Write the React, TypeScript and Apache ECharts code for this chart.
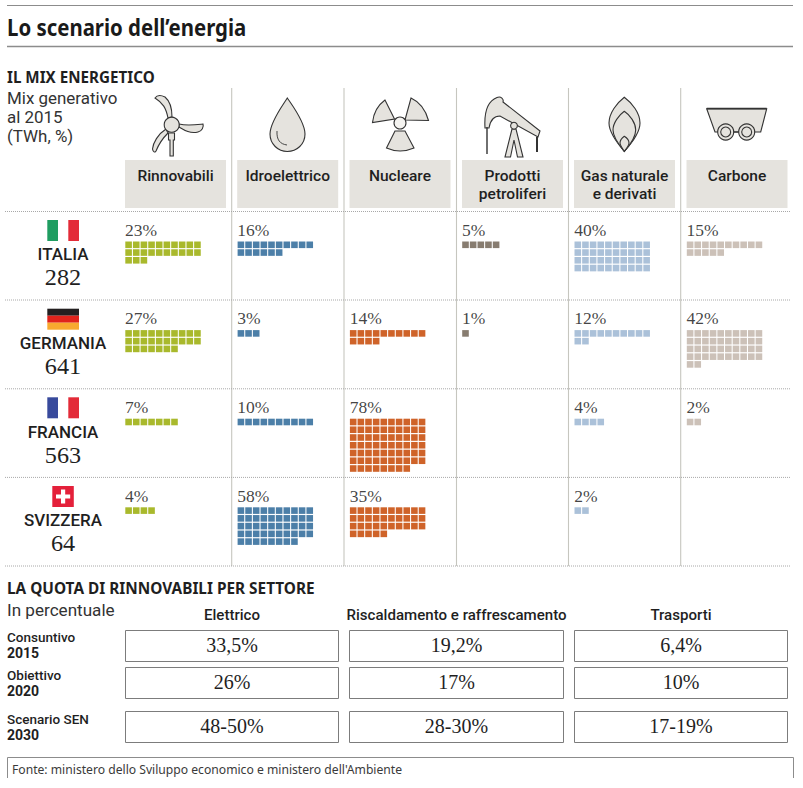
import React, { useEffect, useRef } from "react";
import * as echarts from "echarts";

const sources = ["Rinnovabili", "Idroelettrico", "Nucleare", "Prodotti\npetroliferi", "Gas naturale\ne derivati", "Carbone"];
const sourceColors = ["#a9b92c", "#4c7fa8", "#cf6329", "#877c70", "#abc1d9", "#ccc1b8"];
const countries = ["ITALIA", "GERMANIA", "FRANCIA", "SVIZZERA"];
const totals = ["282", "641", "563", "64"];

// Printed percentages, one list per source, in the order of the countries
const rinnovabiliPct = [23, 27, 7, 4];
const idroPct = [16, 3, 10, 58];
const nuclearePct = [null, 14, 78, 35];
const petroliPct = [5, 1, null, null];
const gasPct = [40, 12, 4, 2];
const carbonePct = [15, 42, 2, null];
const printedPct = [rinnovabiliPct, idroPct, nuclearePct, petroliPct, gasPct, carbonePct];

// Squares as they are drawn in the picture: the reference shows one row fewer than
// its label for Francia/Nucleare (68 for 78%) and Svizzera/Idroelettrico (48 for 58%)
const rinnovabiliCells = [23, 27, 7, 4];
const idroCells = [16, 3, 10, 48];
const nucleareCells = [0, 14, 68, 35];
const petroliCells = [5, 1, 0, 0];
const gasCells = [40, 12, 4, 2];
const carboneCells = [15, 42, 2, 0];
const drawnCells = [rinnovabiliCells, idroCells, nucleareCells, petroliCells, gasCells, carboneCells];

const sectors = ["Elettrico", "Riscaldamento e raffrescamento", "Trasporti"];
const scenarioNames = ["Consuntivo", "Obiettivo", "Scenario SEN"];
const scenarioYears = ["2015", "2020", "2030"];
const elettrico = ["33,5%", "26%", "48-50%"];
const riscaldamento = ["19,2%", "17%", "28-30%"];
const trasporti = ["6,4%", "10%", "17-19%"];
const shareTable = [elettrico, riscaldamento, trasporti];

const SANS = '"Noto Sans", sans-serif';
const ROBOTO = 'Roboto, "Noto Sans", sans-serif';
const SERIF = '"Liberation Serif", serif';
const INK = "#1f1f1f";
const PANEL = "#e5e3de";
const ICON = "#333333";

const shapes: Record<string, string> = {
  bladeA: "M168,118 C166,108 163,103 155,98 C157,95 161,95 165,97 C171,102 172,110 172,117 Z",
  bladeB: "M179,124 C187,126 194,125 203,124 C204,127 202,131 198,132 C190,134 184,130 179,127 Z",
  bladeC: "M166,129 C158,134 153,143 152.5,149 C153,152 155,153 156,151 C158,146 161,140 168,133 Z",
  mast: "M168.5,133 L174.5,133 L174.5,140 L173.3,140 L173.3,156 L170,156 L170,140 L168.5,140 Z",
  drop: "M287.3,98 C283,105 270,122 270,134 C270,144 278,151.5 287.3,151.5 C297,151.5 305,144 305,134 C305,122 292,105 287.3,98 Z",
  dropArc: "M277,131 C276.5,140 280,144 287,145",
  radA: "M394.5,119 L385,100 Q374,108 372.5,122.5 Z",
  radB: "M405,120 L411,98 Q424,104 428.5,120.5 Z",
  radC: "M395,131 L386.5,148 Q400,154 414,148 L405,131 Z",
  pumpBeam: "M485,128 C484,112 488,101 497,97.5 C501,96 504,99 503,102 L540,131 L538,137 L500,116 C493,116 490,122 489,128 Z",
  pumpLegs: "M512,129 L505,157 L510.5,157 L514,140 L517.5,157 L523,157 L516,129 Z",
  flameA: "M624.3,97.3 C617,103 609,113 609,123 C609,133 618,144 624.3,151.3 C631,144 640,133 640,123 C640,113 632,103 624.3,97.3 Z",
  flameB: "M624.3,111.3 C619,115 613,123 613,130 C613,137 619,145 624.3,151.3 C630,145 635.7,137 635.7,130 C635.7,123 630,115 624.3,111.3 Z",
  flameC: "M624.3,136.3 C622,138 620,141 620,143 C620,145 622,148 624.3,151.3 C627,148 629,145 629,143 C629,141 627,138 624.3,136.3 Z",
  cart: "M706.7,108.7 L766.7,108.7 L760.7,132 L715,132 Z",
};
Object.keys(shapes).forEach((k) => {
  echarts.graphic.registerShape(k, echarts.graphic.extendPath(shapes[k], {}));
});

function txt(text: string, x: number, y: number, fontSize: number, opts: any = {}) {
  const { scaleX, family, weight, align, fill, z, lineHeight } = opts;
  return {
    type: "text",
    x,
    y,
    scaleX: scaleX ?? 1,
    z: z ?? 5,
    silent: true,
    style: {
      text,
      fontSize,
      lineHeight,
      fontFamily: family ?? SANS,
      fontWeight: weight ?? "normal",
      align: align ?? "left",
      verticalAlign: "middle",
      fill: fill ?? INK,
    },
  };
}
const line = (x1: number, y1: number, x2: number, y2: number, stroke: string, lineWidth = 1, lineDash?: number[]) => ({
  type: "line",
  silent: true,
  shape: { x1, y1, x2, y2 },
  style: { stroke, lineWidth, lineDash },
});
const rect = (x: number, y: number, width: number, height: number, style: any) => ({
  type: "rect",
  silent: true,
  shape: { x, y, width, height },
  style,
});
const icon = (name: string, fill: string = PANEL, lineWidth = 1.1) => ({
  type: name,
  silent: true,
  x: 0,
  y: 0,
  style: { fill, stroke: ICON, lineWidth },
});
const circle = (cx: number, cy: number, r: number, fill: string = PANEL, lineWidth = 1.1) => ({
  type: "circle",
  silent: true,
  shape: { cx, cy, r },
  style: { fill, stroke: ICON, lineWidth },
});

function buildGraphics() {
  const g: any[] = [];
  // rules
  g.push(line(7, 5.5, 793, 5.5, "#8c8c8c"));
  g.push(line(7, 46.5, 793, 46.5, "#8c8c8c", 1.3));
  g.push(txt("Lo scenario dell\u2019energia", 7, 26.5, 24, { weight: "bold", scaleX: 0.85, fill: "#1a1a1a" }));
  g.push(txt("IL MIX ENERGETICO", 7, 76.5, 16, { weight: "bold", scaleX: 0.95 }));
  g.push(txt("Mix generativo\nal 2015\n(TWh, %)", 7, 118, 16, { family: ROBOTO, fill: "#333333", lineHeight: 19, scaleX: 1.06 }));

  // header panels, dividers
  const panelX = [125, 237.2, 349.5, 462, 574, 686.5];
  sources.forEach((s, i) => {
    g.push(rect(panelX[i], 160, 101, 48, { fill: PANEL }));
    const cx = panelX[i] + 50.5;
    const lines = s.split("\n").length;
    g.push(txt(s, cx, 176.5 + (lines - 1) * 8.75, 14.8, { align: "center", family: ROBOTO, weight: 500, lineHeight: 17.5, scaleX: 1.05 }));
  });
  [231.7, 344, 456.5, 568.5, 680.7].forEach((x) => g.push(line(x, 88, x, 566, "#c6c6bf", 1.1)));
  [211.5, 300, 388.8, 477.4, 566].forEach((y) => g.push(line(5, y, 791, y, "#a8a8a8", 1, [1, 1])));

  // icons
  ["bladeA", "bladeB", "bladeC", "mast"].forEach((n) => g.push(icon(n)));
  g.push(circle(171.7, 124.7, 7.5));
  g.push(icon("drop"));
  g.push(icon("dropArc", "none", 0.9));
  ["radA", "radB", "radC"].forEach((n) => g.push(icon(n)));
  g.push(circle(400, 123, 6, "#f4f3f0"));
  g.push(icon("pumpLegs"));
  g.push(icon("pumpBeam"));
  g.push(circle(514, 125.7, 3.4));
  g.push(line(487, 127, 487, 154, ICON, 1.4));
  g.push(line(537, 137, 537, 152, ICON, 2));
  ["flameA", "flameB", "flameC"].forEach((n) => g.push(icon(n)));
  g.push(icon("cart"));
  g.push(line(706.7, 108.7, 766.7, 108.7, ICON, 1.8));
  g.push(line(725.7, 132, 746.7, 132, ICON, 1.2));
  [725.7, 746.7].forEach((cx) => {
    g.push(circle(cx, 132, 8));
    g.push(circle(cx, 132, 5));
  });

  // flags
  g.push(rect(47.3, 220, 10.7, 21, { fill: "#1f9d61" }));
  g.push(rect(68.3, 220, 10.7, 21, { fill: "#e32b38" }));
  g.push(rect(47.3, 308.7, 31.7, 7, { fill: "#231f20" }));
  g.push(rect(47.3, 315.7, 31.7, 7, { fill: "#e0231c" }));
  g.push(rect(47.3, 322.7, 31.7, 7, { fill: "#f8a92f" }));
  g.push(rect(47.3, 397.3, 10.7, 21, { fill: "#384a9c" }));
  g.push(rect(68.3, 397.3, 10.7, 21, { fill: "#e32b38" }));
  g.push(rect(52.3, 486, 21.5, 21, { fill: "#e4203a" }));
  g.push(rect(61, 489.5, 4.2, 14, { fill: "#ffffff" }));
  g.push(rect(56, 494.4, 14.2, 4.2, { fill: "#ffffff" }));

  // country labels
  countries.forEach((c, i) => {
    g.push(txt(c, 63, 254.3 + i * 88.7, 17, { align: "center", family: ROBOTO, weight: 500 }));
    g.push(txt(totals[i], 63, 277.3 + i * 88.7, 23.5, { align: "center", family: SERIF, scaleX: 1.03 }));
  });

  // lower table
  g.push(txt("LA QUOTA DI RINNOVABILI PER SETTORE", 7, 588, 16, { weight: "bold", scaleX: 0.96 }));
  g.push(txt("In percentuale", 7, 610.5, 16, { family: ROBOTO, fill: "#333333", scaleX: 1.07 }));
  const colX = [125.5, 349.5, 574.5];
  const colW = [213, 214, 213];
  const rowY = [630.5, 667.5, 711.5];
  sectors.forEach((s, c) => {
    g.push(txt(s, colX[c] + colW[c] / 2, 615, 14.8, { align: "center", family: ROBOTO, weight: 500, scaleX: 1.02 }));
    rowY.forEach((y, r) => {
      g.push(rect(colX[c], y, colW[c], 31, { fill: "#ffffff", stroke: "#7c7c7c", lineWidth: 1 }));
      g.push(txt(shareTable[c][r], colX[c] + colW[c] / 2, y + 14.7, 20, { align: "center", family: SERIF }));
    });
  });
  scenarioNames.forEach((n, i) => {
    const y = [636.7, 674.7, 718.7][i];
    g.push(txt(n, 7, y, 13.5, { family: ROBOTO, weight: 500 }));
    g.push(txt(scenarioYears[i], 7, y + 16.3, 14, { family: ROBOTO, weight: "bold" }));
  });

  // source box
  g.push({
    type: "polyline",
    silent: true,
    shape: { points: [[7.5, 778], [7.5, 757.5], [793.5, 757.5], [793.5, 778]] },
    style: { stroke: "#8c8c8c", lineWidth: 1, fill: "none" },
  });
  g.push(txt("Fonte: ministero dello Sviluppo economico e ministero dell'Ambiente", 12, 769, 13.5, { fill: "#3a3a3a", scaleX: 0.9 }));
  return g;
}

const CELL_STEP_X = 7.65 / 112.3;
const CELL_STEP_Y = 7.75 / 88.6;
const PER_ROW = 10;

function cellPoints(col: number) {
  const pts: number[][] = [];
  drawnCells[col].forEach((n, row) => {
    for (let k = 0; k < n; k++) {
      pts.push([col + (k % PER_ROW) * CELL_STEP_X, row + Math.floor(k / PER_ROW) * CELL_STEP_Y]);
    }
  });
  return pts;
}

function labelPoints() {
  const pts: any[] = [];
  printedPct.forEach((list, col) =>
    list.forEach((v, row) => {
      if (v !== null) pts.push([col, row, `${v}%`]);
    })
  );
  return pts;
}

export default function App() {
  const ref = useRef<HTMLDivElement>(null);
  useEffect(() => {
    document.body.style.margin = "0";
    const chart = echarts.init(ref.current!, undefined, { renderer: "svg" });
    chart.setOption({
      animation: false,
      backgroundColor: "#ffffff",
      grid: { left: 128.6, top: 244.8, width: 673.8, height: 354.4, containLabel: false },
      xAxis: { type: "value", min: 0, max: 6, show: false },
      yAxis: { type: "value", min: 0, max: 4, inverse: true, show: false },
      tooltip: { show: false },
      graphic: { elements: buildGraphics() },
      series: [
        ...sources.map((s, col) => ({
          type: "scatter",
          name: s.replace("\n", " "),
          symbol: "rect",
          symbolSize: 6.6,
          silent: true,
          clip: false,
          itemStyle: { color: sourceColors[col], opacity: 1 },
          data: cellPoints(col),
          z: 3,
        })),
        {
          type: "scatter",
          name: "Quota",
          symbolSize: 0.1,
          silent: true,
          clip: false,
          itemStyle: { color: "transparent" },
          data: labelPoints(),
          z: 4,
          label: {
            show: true,
            position: "right",
            distance: 0,
            offset: [-3.6, -15],
            formatter: (p: any) => p.value[2],
            fontFamily: SERIF,
            fontSize: 17.5,
            color: "#111111",
          },
        },
      ],
    });
    return () => chart.dispose();
  }, []);
  return <div ref={ref} style={{ width: 803, height: 788 }} />;
}
